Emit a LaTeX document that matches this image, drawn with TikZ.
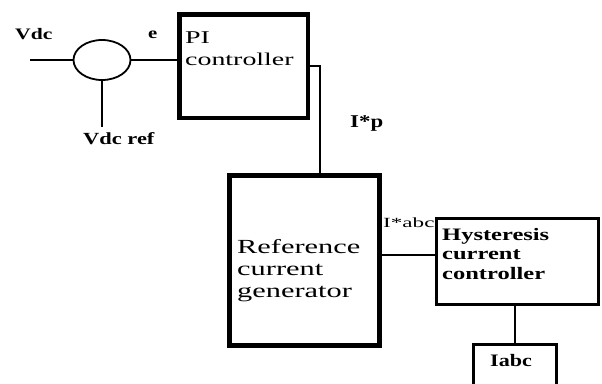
\documentclass[tikz,border=0pt]{standalone}
\usepackage{fontspec}
\usepackage{graphicx}
\setmainfont{Liberation Serif}
\usetikzlibrary{shapes.geometric}

% text in the reference is stretched sideways
\newcommand{\wideText}[2]{\scalebox{#1}[1]{#2}}
\newcommand{\lines}[1]{\begin{tabular}[t]{@{}l@{}}#1\end{tabular}}

\begin{document}
\begin{tikzpicture}[x=1pt, y=-1pt,
    wire/.style={line width=2pt},
    block/.style={rectangle, draw, fill=white, inner sep=0pt},
    lbl/.style={anchor=base west, inner sep=0pt, font=\bfseries}]
    \clip (0,0) rectangle (602,383);
    \fill[white] (0,0) rectangle (602,383);

    % Define positions of the blocks
    \node[ellipse, draw, line width=1.8pt, minimum width=57pt, minimum height=40pt] (sum) at (102,60) {};
    \node[block, line width=4.5pt, minimum width=128.5pt, minimum height=103.5pt] (pi) at (243.5,66) {};
    \node[block, line width=5pt, minimum width=150pt, minimum height=170pt] (ref) at (304.5,260.5) {};
    \node[block, line width=3pt, minimum width=162pt, minimum height=86pt] (hyst) at (517.5,261.5) {};
    \node[block, line width=3pt, minimum width=83pt, minimum height=60pt] (iabc) at (515,374.5) {};

    % Free ends of the inputs
    \coordinate (vdcin) at (30,60);
    \coordinate (vdcref) at (102,127);

    % Draw connectors between the blocks
    \draw[wire] (vdcin) -- (sum.west);
    \draw[wire] (sum.south) -- (vdcref);
    \draw[wire] (sum.east) -- (sum.east -| pi.west);
    \draw[wire] (pi.east) -| ([xshift=15.5pt]ref.north);
    \draw[wire] ([yshift=6pt]ref.east) -- ([yshift=6pt]ref.east -| hyst.west);
    \draw[wire] (iabc.north |- hyst.south) -- (iabc.north);

    % Text in the blocks
    \node[lbl, font=\fontsize{18}{22}\selectfont] (pitext) at (185,43)
        {\wideText{1.55}{\lines{PI\\controller}}};
    \node[lbl, font=\fontsize{20}{22}\selectfont] (reftext) at (237,253)
        {\wideText{1.52}{\lines{Reference\\current\\generator}}};
    \node[lbl, font=\fontsize{17.5}{19.5}\selectfont\bfseries] (hysttext) at (442,240)
        {\wideText{1.4}{\lines{Hysteresis\\current\\controller}}};
    \node[lbl, font=\fontsize{17.5}{20}\selectfont\bfseries] (iabctext) at (490,366)
        {\wideText{1.26}{Iabc}};

    % Signal labels
    \node[lbl, font=\fontsize{16}{18}\selectfont\bfseries] (vdclbl) at (15,39) {\wideText{1.35}{Vdc}};
    \node[lbl, font=\fontsize{16}{18}\selectfont\bfseries] (elbl) at (148,38) {\wideText{1.3}{e}};
    \node[lbl, font=\fontsize{17}{19}\selectfont\bfseries] (vdcreflbl) at (83,144) {\wideText{1.32}{Vdc ref}};
    \node[lbl, font=\fontsize{18}{20}\selectfont\bfseries] (iplbl) at (350,127) {\wideText{1.27}{I*p}};
    \node[lbl, font=\fontsize{14}{16}\selectfont] (iabclbl) at (383,227) {\wideText{1.65}{I*abc}};
\end{tikzpicture}
\end{document}
